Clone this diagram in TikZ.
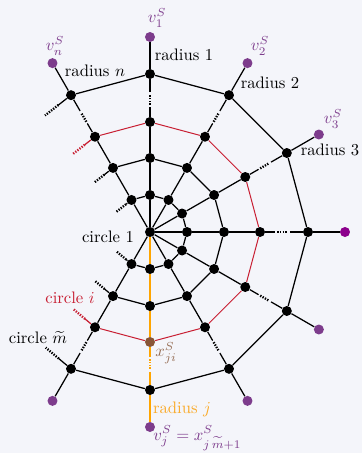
\documentclass[tikz,border=0pt]{standalone}
\usetikzlibrary{calc}
\definecolor{bgc}{RGB}{244,245,250}
\definecolor{webred}{RGB}{200,30,50}
\definecolor{weborange}{RGB}{255,165,0}
\definecolor{weborangetext}{RGB}{250,170,40}
\definecolor{webbrown}{RGB}{135,85,55}
\definecolor{webbrowntext}{RGB}{150,110,85}
\definecolor{webpurple}{RGB}{125,60,140}
\definecolor{webviolet}{RGB}{140,0,140}
\begin{document}
\begin{tikzpicture}[x=0.6pt,y=0.6pt,
  dot/.style={circle,fill=black,inner sep=0pt,minimum size=6pt},
  pdot/.style={circle,fill=webpurple,inner sep=0pt,minimum size=6pt},
  edge/.style={line width=0.75pt},
  redge/.style={line width=0.6pt,webred},
  oedge/.style={line width=0.75pt,weborange},
  dots/.style={line width=1.4pt,dash pattern=on 0.8pt off 0.8pt},
  lbl/.style={inner sep=0pt}]
\fill[bgc] (-150,-221) rectangle (212,232);
\useasboundingbox (-150,-221) rectangle (212,232);

% nodes
\node[dot] (c0) at (0,0) {};
\foreach \k in {0,...,8}{
  \pgfmathsetmacro\ang{120-30*\k}
  \node[dot] (n\k-1) at (\ang:37) {};
  \node[dot] (n\k-2) at (\ang:74) {};
  \node[dot] (n\k-4) at (\ang:158) {};
}
\foreach \k in {0,...,3,5,6,7,8}{
  \pgfmathsetmacro\ang{120-30*\k}
  \node[pdot] (p\k) at (\ang:195) {};
}
\node[pdot,fill=webviolet] (p4) at (0:195) {};
\foreach \k in {0,...,6,8}{
  \pgfmathsetmacro\ang{120-30*\k}
  \node[dot] (n\k-3) at (\ang:110) {};
}
\node[dot,fill=webbrown] (n7-3) at (-90:110) {};

% spokes
\foreach \k/\st in {0/edge,1/edge,2/edge,3/edge,4/edge,5/edge,6/edge,7/oedge,8/edge}{
  \draw[\st] (c0) -- (n\k-1) -- (n\k-2) -- (n\k-3);
  \draw[\st] (n\k-3) -- ($(n\k-3)!0.32!(n\k-4)$);
  \draw[dots,\st,line width=1.4pt] ($(n\k-3)!0.36!(n\k-4)$) -- ($(n\k-3)!0.58!(n\k-4)$);
  \draw[\st] ($(n\k-3)!0.62!(n\k-4)$) -- (n\k-4) -- (p\k);
}

% circles
\foreach \k [evaluate=\k as \kk using int(\k+1)] in {0,...,7}{
  \draw[edge] (n\k-1) -- (n\kk-1);
  \draw[edge] (n\k-2) -- (n\kk-2);
  \draw[redge] (n\k-3) -- (n\kk-3);
  \draw[edge] (n\k-4) -- (n\kk-4);
}

% stubs towards hidden radii
\foreach \c/\a/\b/\col in {1/7/12/black,2/11/13/black,3/13/15/webred,4/16/17/black}{
  \path (n0-\c) ++(218:\a) coordinate (su\c) ++(218:\b) coordinate (sv\c);
  \path (n8-\c) ++(140:\a) coordinate (sl\c) ++(140:\b) coordinate (sm\c);
  \draw[edge,\col] (n0-\c) -- (su\c);
  \draw[dots,\col] (su\c) -- (sv\c);
  \draw[edge,\col] (n8-\c) -- (sl\c);
  \draw[dots,\col] (sl\c) -- (sm\c);
}

% labels
\node[lbl,text=webpurple] (lv1) at (7,214) {$v_1^S$};
\node[lbl] (lr1) at (34,177) {radius 1};
\node[lbl,text=webpurple] (lv2) at (110,186) {$v_2^S$};
\node[lbl] (lr2) at (120,149) {radius 2};
\node[lbl,text=webpurple] (lv3) at (183,113) {$v_3^S$};
\node[lbl] (lr3) at (180,82) {radius 3};
\node[lbl,text=webpurple] (lvn) at (-95,186) {$v_n^S$};
\node[lbl] (lrn) at (-55,161) {radius $n$};
\node[lbl] (lc1) at (-42,-5) {circle 1};
\node[lbl,text=webred] (lci) at (-80,-66) {circle $i$};
\node[lbl] (lcm) at (-112,-106) {circle $\widetilde{m}$};
\node[lbl,text=webbrowntext] (lx) at (16,-121) {$x_{ji}^S$};
\node[lbl,text=weborangetext] (lrj) at (32,-177) {radius $j$};
\node[lbl,text=webpurple,anchor=base west] (lvj) at (3,-208) {$v_j^S=x^S_{j\,\widetilde{m}+1}$};
\end{tikzpicture}
\end{document}
